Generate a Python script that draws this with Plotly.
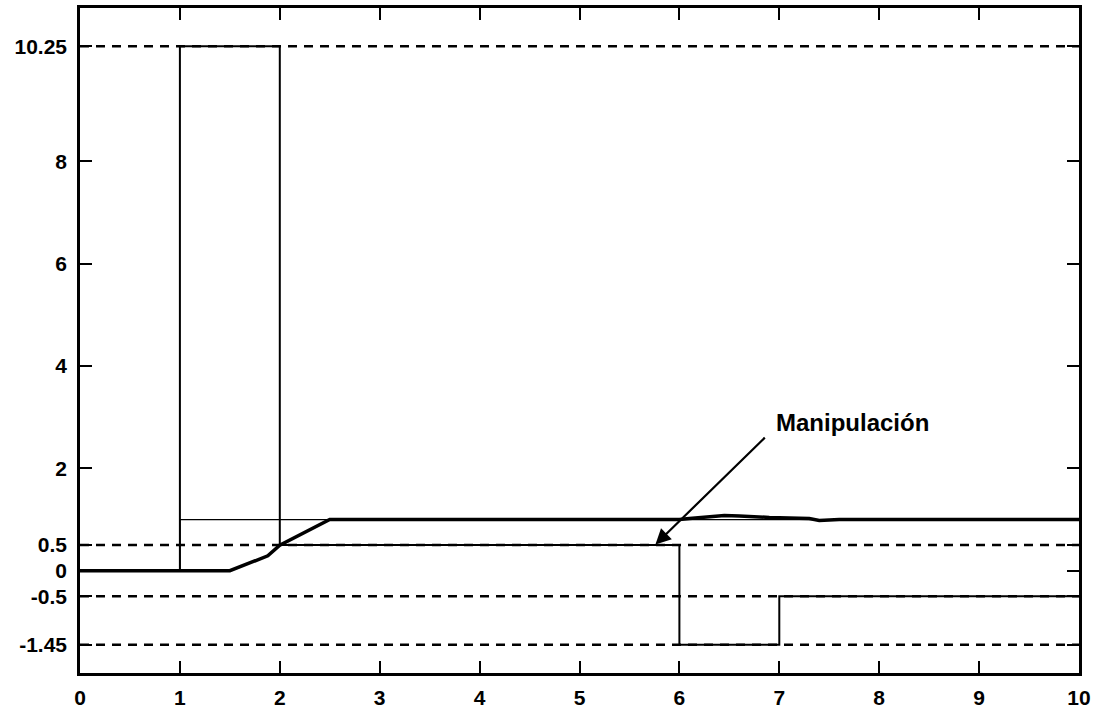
import plotly.graph_objects as go

# Time axis (s) and signals
t_setpoint = [0, 1, 1, 10]
setpoint = [0, 0, 1.0, 1.0]

t_manip = [0, 1, 1, 2, 2, 6, 6, 7, 7, 10]
manipulation = [0, 0, 10.25, 10.25, 0.5, 0.5, -1.45, -1.45, -0.5, -0.5]

t_output = [0, 1.5, 1.88, 2.0, 2.5, 6.0, 6.1, 6.3, 6.45, 6.6, 6.9, 7.3, 7.4, 7.6, 10]
output = [0, 0, 0.29, 0.5, 1.0, 1.0, 1.02, 1.05, 1.08, 1.07, 1.04, 1.02, 0.98, 1.0, 1.0]

# Limit levels shown as dashed references
limit_levels = [10.25, 0.5, -0.5, -1.45]
limit_span = [0, 10]

x_ticks = [0, 1, 2, 3, 4, 5, 6, 7, 8, 9, 10]
y_ticks = [-1.45, -0.5, 0, 0.5, 2, 4, 6, 8, 10.25]
y_tick_text = ["-1.45", "-0.5", "0", "0.5", "2", "4", "6", "8", "10.25"]

# Arrow for the manipulation label: tail and tip in data units
arrow_tail = (6.87, 2.63)
arrow_tip = (5.76, 0.51)
label_pos = (7.73, 2.9)

FONT = "Liberation Sans Narrow, Liberation Sans, Arial, sans-serif"

fig = go.Figure()

for lvl in limit_levels:
    fig.add_trace(go.Scatter(
        x=limit_span, y=[lvl, lvl], mode="lines",
        line=dict(color="black", width=2.5, dash="9px,7px"),
        hoverinfo="skip", showlegend=False))

fig.add_trace(go.Scatter(
    x=t_setpoint, y=setpoint, mode="lines",
    line=dict(color="black", width=1.3), showlegend=False))

fig.add_trace(go.Scatter(
    x=t_manip, y=manipulation, mode="lines",
    line=dict(color="black", width=2), showlegend=False))

fig.add_trace(go.Scatter(
    x=t_output, y=output, mode="lines",
    line=dict(color="black", width=3.5), showlegend=False))

fig.add_annotation(
    x=arrow_tip[0], y=arrow_tip[1], ax=arrow_tail[0], ay=arrow_tail[1],
    xref="x", yref="y", axref="x", ayref="y", text="",
    showarrow=True, arrowhead=2, arrowsize=1.4, arrowwidth=2.2,
    arrowcolor="black")

fig.add_annotation(
    x=label_pos[0], y=label_pos[1], xref="x", yref="y",
    text="<b>Manipulación</b>", showarrow=False,
    font=dict(family=FONT, size=24, color="black"))

axis_common = dict(
    showgrid=False, zeroline=False, showline=True, linecolor="black",
    linewidth=2.5, mirror="ticks", ticks="inside", ticklen=12,
    tickwidth=2, tickcolor="black", automargin=False,
    tickfont=dict(family=FONT, size=21, color="black", weight="bold"),
)

fig.update_xaxes(range=[0, 10], tickvals=x_ticks, ticklabelstandoff=4,
                 **axis_common)
fig.update_yaxes(range=[-2, 11], tickvals=y_ticks, ticktext=y_tick_text,
                 ticklabelstandoff=6, **axis_common)

fig.update_layout(
    width=1096, height=709,
    margin=dict(l=80, r=17, t=8, b=36),
    paper_bgcolor="white", plot_bgcolor="white",
)

fig.write_html("out.html")
